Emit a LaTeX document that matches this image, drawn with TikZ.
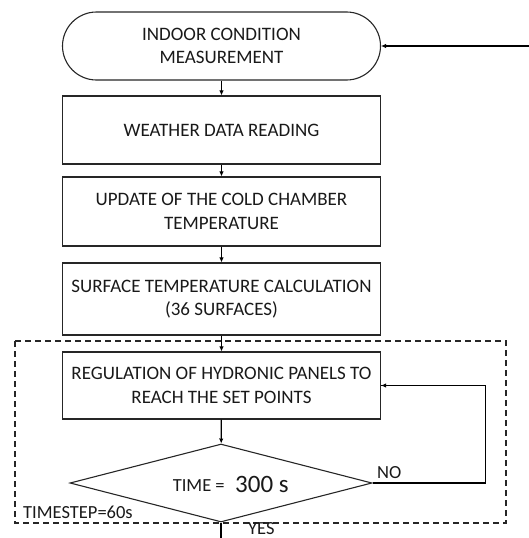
\documentclass[tikz,border=0pt]{standalone}
\usepackage{fontspec}
\setmainfont{Carlito}
\usetikzlibrary{shapes.geometric,arrows.meta}
\begin{document}
\begin{tikzpicture}[x=1pt,y=-1pt,
  procbox/.style={draw=black!85,line width=1.1pt,minimum width=318pt,inner sep=0pt,align=center,font=\fontsize{19}{23.5}\selectfont,text=black!90},
  flow/.style={line width=1.3pt,draw=black,-{Latex[length=5pt,width=4.5pt]}},
  lbl/.style={font=\fontsize{18.5}{21}\selectfont,text=black!90,inner sep=0pt}]
\useasboundingbox (0,0) rectangle (529,538);
\node[procbox,minimum height=68pt,rounded corners=34pt] (term) at (221.5,46) {INDOOR CONDITION\\MEASUREMENT};
\node[procbox,minimum height=68pt] (weather) at (221.5,130) {WEATHER DATA READING};
\node[procbox,minimum height=69pt] (cold) at (221.5,211.5) {UPDATE OF THE COLD CHAMBER\\TEMPERATURE};
\node[procbox,minimum height=72pt] (surf) at (221.5,299) {SURFACE TEMPERATURE CALCULATION\\(36 SURFACES)};
\draw[line width=1.4pt,dash pattern=on 6pt off 4pt,draw=black!85] (15,341) rectangle (506,523);
\node[procbox,minimum height=67pt] (reg) at (221.5,385.5) {REGULATION OF HYDRONIC PANELS TO\\REACH THE SET POINTS};
\node[draw=black!85,line width=1.1pt,diamond,inner sep=0pt,shape aspect=3.87,minimum width=302pt,minimum height=78pt] (dia) at (221,483) {};
\node[lbl,anchor=base east] (tlab) at (228,491) {TIME =\,};
\node[font=\fontsize{25}{28}\selectfont,text=black!90,inner sep=0pt,anchor=base west] (tval) at (235,492) {300 s};
\node[lbl,anchor=base west] (no) at (377,478) {NO};
\node[lbl,anchor=base west] (yes) at (248,534) {YES};
\node[lbl,anchor=base west] (ts) at (23,518) {TIMESTEP=60s};
\coordinate (inp) at (529,46);
\coordinate (outp) at (221,538);
\draw[flow] (inp) -- (term.east);
\draw[flow] (term) -- (weather);
\draw[flow] (weather) -- (cold);
\draw[flow] (cold) -- (surf);
\draw[flow] (surf) -- (reg);
\draw[flow] (reg) -- (dia);
\draw[line width=1.6pt] (dia.east) -- ++(113,0) |- (reg.east);
\draw[flow] ([xshift=20pt]reg.east) -- (reg.east);
\draw[line width=1.3pt] (dia.south) -- (outp);
\end{tikzpicture}
\end{document}
